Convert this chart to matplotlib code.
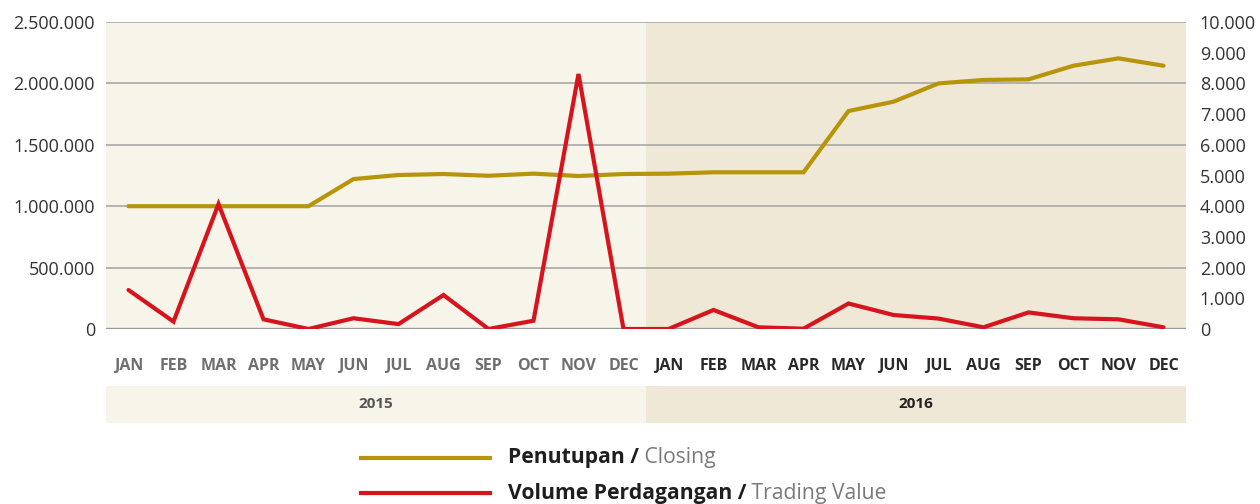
import matplotlib
matplotlib.use("Agg")
import matplotlib.pyplot as plt
from matplotlib.lines import Line2D
from matplotlib.ticker import FuncFormatter, MultipleLocator

plt.rcParams['font.family'] = ['Open Sans', 'DejaVu Sans']

# ---- data ----
months = ["JAN", "FEB", "MAR", "APR", "MAY", "JUN", "JUL", "AUG", "SEP", "OCT", "NOV", "DEC"]
years = ["2015", "2016"]
month_labels = months + months

closing = [1000000, 1000000, 1000000, 1000000, 1000000, 1221000, 1254000, 1262000, 1248000, 1265000, 1246000, 1262000,
           1265000, 1276000, 1276000, 1276000, 1775000, 1851000, 2000000, 2028000, 2033000, 2144000, 2204000, 2144000]
trading = [1270, 240, 4070, 315, 0, 350, 160, 1107, 0, 270, 8306, 0,
           0, 620, 55, 10, 830, 456, 340, 55, 540, 350, 315, 55]

left_ticks_max = 2500000
right_ticks_max = 10000

# ---- style ----
GOLD = "#B8940A"
RED = "#D7141E"
BG15 = "#F7F4E9"
BG16 = "#EFE8D6"
GRID = "#A8A8A8"

W, H = 1260, 504
fig = plt.figure(figsize=(W / 100, H / 100), dpi=100)

L, R = 106 / W, 1186 / W
B, T = 1 - 329 / H, 1 - 22 / H
ax = fig.add_axes([L, B, R - L, T - B])
ax2 = ax.twinx()

n = len(month_labels)
x = list(range(n))
ax.set_xlim(-0.5, n - 0.5)
ax.axvspan(-0.5, 11.5, color=BG15, zorder=0, lw=0)
ax.axvspan(11.5, n - 0.5, color=BG16, zorder=0, lw=0)

ax.set_ylim(0, left_ticks_max)
ax2.set_ylim(0, right_ticks_max)
ax.yaxis.set_major_locator(MultipleLocator(500000))
ax2.yaxis.set_major_locator(MultipleLocator(1000))

fmt = FuncFormatter(lambda v, p: f"{int(round(v)):,}".replace(",", "."))
ax.yaxis.set_major_formatter(fmt)
ax2.yaxis.set_major_formatter(fmt)

ax.set_axisbelow(True)
ax.yaxis.grid(True, color=GRID, lw=1.2)
ax.axhline(0, color="#999999", lw=2.4, zorder=1)

ax.plot(x, closing, color=GOLD, lw=3.0, solid_capstyle='round', solid_joinstyle='miter', zorder=3)
ax2.plot(x, trading, color=RED, lw=3.0, solid_capstyle='round', solid_joinstyle='miter', zorder=3)

for a in (ax, ax2):
    for s in a.spines.values():
        s.set_visible(False)
    a.tick_params(axis='y', length=0, labelsize=13, labelcolor="#333333")
ax.tick_params(axis='y', pad=8)
ax2.tick_params(axis='y', pad=10)

ax.set_xticks(x)
ax.set_xticklabels(month_labels, fontsize=11.5, fontweight='bold')
ax.tick_params(axis='x', length=0, pad=21)
for i, lab in enumerate(ax.get_xticklabels()):
    lab.set_color("#6F6F6F" if i < 12 else "#2A2A2A")

# ---- year band ----
yb = fig.add_axes([L, 1 - 423 / H, R - L, 37 / H])
yb.set_xlim(-0.5, n - 0.5)
yb.set_ylim(0, 1)
yb.axvspan(-0.5, 11.5, color=BG15, lw=0)
yb.axvspan(11.5, n - 0.5, color=BG16, lw=0)
yb.text(5.5, 0.5, years[0], ha='center', va='center', fontsize=11, fontweight='bold', color="#555555")
yb.text(17.5, 0.5, years[1], ha='center', va='center', fontsize=11, fontweight='bold', color="#222222")
yb.axis('off')

# ---- legend ----
lg = fig.add_axes([0, 0, 1, 1])
lg.set_xlim(0, W)
lg.set_ylim(H, 0)
lg.axis('off')
entries = [("Penutupan /", " Closing", GOLD, 458), ("Volume Perdagangan /", " Trading Value", RED, 493)]
for bold, reg, col, yy in entries:
    lg.add_line(Line2D([361, 490], [yy, yy], color=col, lw=3.0))
    t1 = lg.text(508, yy, bold, fontsize=15.2, fontweight='bold', color="#1E1E1E", va='center', ha='left')
    lg.annotate(reg, xy=(1, 0), xycoords=t1, va='bottom', ha='left', fontsize=15.2, color="#7A7A7A")

fig.savefig("out.png", dpi=100)
